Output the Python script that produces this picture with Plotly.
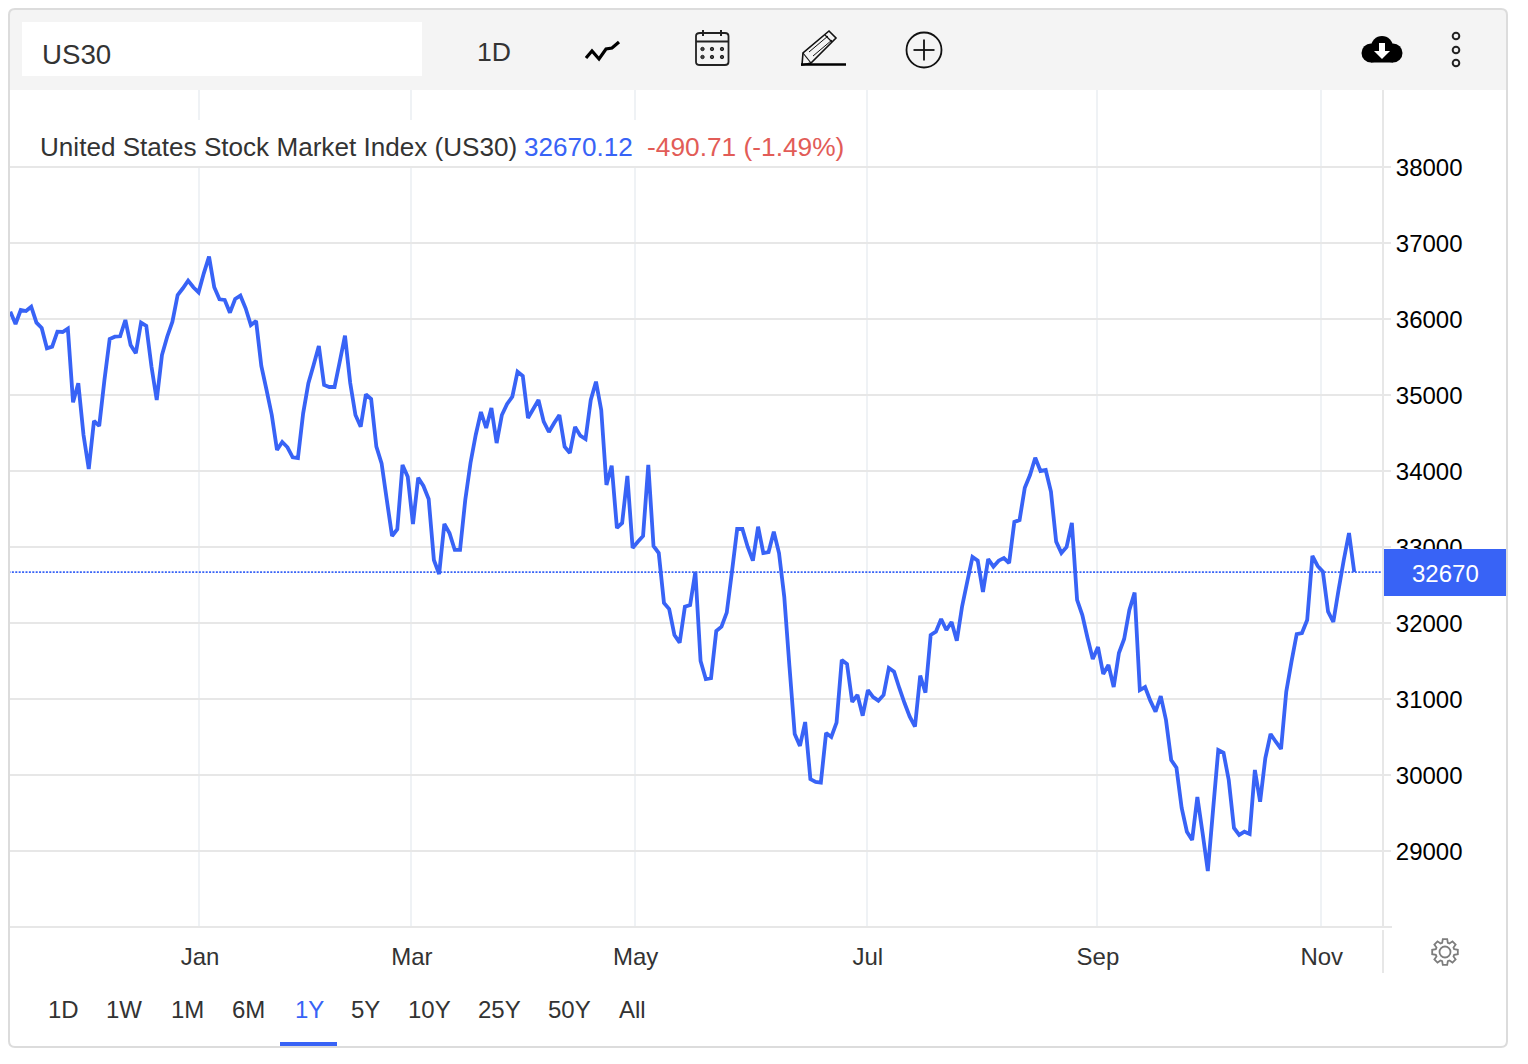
import math
import plotly.graph_objects as go

W, H = 1528, 1064

# ---- data -------------------------------------------------------------
index_close = [
 36096,35934,36118,36105,36162,35952,35882,35614,35636,35833,35829,35873,34904,35154,34474,34026,34658,34592,35197,35737,
 35767,35772,35987,35658,35549,35952,35908,35372,34934,35526,35767,35964,36316,36404,36504,36417,36351,36601,36820,36417,
 36259,36250,36083,36263,36307,36141,35921,35974,35382,35066,34737,34276,34382,34312,34180,34171,34759,35154,35395,35645,
 35132,35105,35105,35438,35780,35158,34737,34583,35009,34947,34320,34101,33618,33145,33233,34079,33925,33303,33912,33803,
 33632,32829,32645,33303,33180,32961,32961,33618,34105,34474,34776,34566,34829,34368,34737,34882,34978,35307,35250,34697,
 34816,34934,34649,34513,34632,34737,34320,34237,34579,34464,34421,34934,35175,34803,33816,34070,33250,33316,33934,32987,
 33070,33145,34079,33013,32921,32263,32184,31842,31741,32214,32237,32675,31500,31263,31276,31895,31951,32136,32675,33237,
 33237,33004,32820,33267,32921,32934,33201,32921,32346,31425,30539,30382,30697,29947,29908,29900,30553,30500,30688,31513,
 31461,30961,31053,30780,31118,31026,30978,31053,31408,31359,31145,30947,30767,30636,31307,31083,31842,31886,32053,31908,
 32013,31767,32214,32543,32868,32820,32408,32842,32741,32820,32855,32789,33329,33355,33780,33947,34175,34000,34013,33728,
 33070,32921,33000,33316,32303,32105,31803,31526,31684,31329,31447,31158,31605,31789,32171,32399,31118,31158,30978,30833,
 31039,30724,30197,30096,29566,29254,29145,29711,29237,28737,29539,30329,30293,29934,29303,29211,29254,29224,30066,29649,
 30224,30539,30438,30342,31096,31491,31855,31868,32039,32882,32750,32675,32149,32013,32434,32829,33184,32670,
]
sessions = list(range(len(index_close)))
month_labels = ["Jan", "Mar", "May", "Jul", "Sep", "Nov"]
month_sessions = [36.1, 76.6, 119.4, 163.8, 207.8, 250.6]
y_ticks = [29000, 30000, 31000, 32000, 33000, 34000, 35000, 36000, 37000, 38000]
range_buttons = ["1D", "1W", "1M", "6M", "1Y", "5Y", "10Y", "25Y", "50Y", "All"]
active_button = "1Y"
symbol = "US30"
frequency = "1D"
title_name = "United States Stock Market Index (US30)"
title_price = "32670.12"
title_change = "-490.71 (-1.49%)"

# ---- styles ------------------------------------------------------------
BLUE = "#3863f6"
RED = "#e25c57"
TXT = "#333333"
GRID = "#e7e7e7"
VGRID = "#eff2f5"
FONT = "Liberation Sans"

def px(x): return x / W
def py(y): return 1 - y / H
def pt(x, y): return f"{px(x):.5f},{py(y):.5f}"
def poly(points, close=False):
    s = "M" + " L".join(pt(a, b) for a, b in points)
    return s + (" Z" if close else "")

shapes, notes = [], []
def path(d, line=None, fill=None, width=0, layer="above"):
    shapes.append(dict(type="path", xref="paper", yref="paper", path=d, layer=layer,
                       line=dict(color=line or "rgba(0,0,0,0)", width=width),
                       fillcolor=fill or "rgba(0,0,0,0)"))
def rect(x0, y0, x1, y1, fill, layer="above"):
    shapes.append(dict(type="rect", xref="paper", yref="paper", x0=px(x0), x1=px(x1), y0=py(y1), y1=py(y0),
                       fillcolor=fill, line=dict(width=0), layer=layer))
def circle(cx, cy, r, fill=None, line=None, width=0):
    shapes.append(dict(type="circle", xref="paper", yref="paper", x0=px(cx-r), x1=px(cx+r), y0=py(cy+r), y1=py(cy-r),
                       fillcolor=fill or "rgba(0,0,0,0)", line=dict(color=line or "rgba(0,0,0,0)", width=width), layer="above"))
def seg(x0, y0, x1, y1, color, width):
    shapes.append(dict(type="line", xref="paper", yref="paper", x0=px(x0), x1=px(x1), y0=py(y0), y1=py(y1),
                       line=dict(color=color, width=width), layer="above"))
def text(x, y, s, size=24, color=TXT, anchor="left"):
    notes.append(dict(xref="paper", yref="paper", x=px(x), y=py(y), text=s, showarrow=False, xanchor=anchor, yanchor="middle",
                      font=dict(family=FONT, size=size, color=color), borderpad=0, borderwidth=0))

# toolbar & frame
L, T, R, B, r = 9, 9, 1507, 1047, 6
path(f"M{pt(L,90)} L{pt(L,T+r)} Q{pt(L,T)} {pt(L+r,T)} L{pt(R-r,T)} Q{pt(R,T)} {pt(R,T+r)} L{pt(R,90)} Z", fill="#f4f4f4")
rect(22, 22, 422, 76, "#ffffff")
rect(30, 120, 866, 166, "#ffffff")
path(f"M{pt(L+r,T)} L{pt(R-r,T)} Q{pt(R,T)} {pt(R,T+r)} L{pt(R,B-r)} Q{pt(R,B)} {pt(R-r,B)} "
     f"L{pt(L+r,B)} Q{pt(L,B)} {pt(L,B-r)} L{pt(L,T+r)} Q{pt(L,T)} {pt(L+r,T)} Z", line="#dcdcdc", width=2)

# axis frame lines
seg(1383, 90, 1383, 926, GRID, 2)
seg(1383, 930, 1383, 973, GRID, 2)
seg(10, 927, 1392, 927, GRID, 2)

# toolbar texts
text(42, 54.5, symbol, 27.7)
text(494, 52, frequency, 26.6, anchor="center")

# trend icon
path(poly([(586,58),(592,51),(599,59),(606,49),(612,48),(619,42)]), line="#000000", width=3.2)
# calendar icon
path(f"M{pt(700,33)} L{pt(725,33)} Q{pt(728.5,33)} {pt(728.5,36)} L{pt(728.5,62)} Q{pt(728.5,65)} {pt(725,65)} "
     f"L{pt(700,65)} Q{pt(696,65)} {pt(696,62)} L{pt(696,36)} Q{pt(696,33)} {pt(700,33)} Z", line="#222222", width=1.8)
seg(696, 41.5, 728.5, 41.5, "#222222", 2.2)
for cx in (703, 721):
    seg(cx, 30, cx, 36, "#222222", 2)
for cy in (49, 57):
    for cx in (702.5, 712, 722):
        circle(cx, cy, 1.7, fill="#444444", line="#222222", width=1)
# pencil icon
path(poly([(802,65),(803,53),(829,31),(836,38),(811,63)], close=True), line="#111111", width=1.6)
seg(803, 53, 811, 63, "#111111", 1.2)
seg(809, 52, 828, 36, "#111111", 1.0)
seg(813, 56, 832, 40, "#111111", 1.0)
seg(825, 35, 832, 42, "#111111", 1.2)
seg(801, 64.5, 846, 64.5, "#000000", 2.5)
# add icon
circle(924, 50, 17.5, line="#111111", width=1.8)
seg(913.5, 50, 934.5, 50, "#111111", 1.8)
seg(924, 39.5, 924, 60.5, "#111111", 1.8)
# cloud download icon
circle(1382, 47, 11, fill="#000000")
circle(1371, 53, 9.5, fill="#000000")
circle(1393, 53, 9.5, fill="#000000")
rect(1371, 52, 1393, 62.5, "#000000")
path(poly([(1379,43),(1385,43),(1385,51),(1390,51),(1382,59),(1374,51),(1379,51)], close=True), fill="#ffffff")
# kebab icon
for cy in (36, 50, 63):
    circle(1456, cy, 3.3, line="#222222", width=2)
# gear icon
gx, gy = 1445, 952
gear = []
teeth = 8
for i in range(teeth):
    a0 = 2 * math.pi * i / teeth
    for da, rad in ((-0.30, 9.6), (-0.17, 13), (0.17, 13), (0.30, 9.6)):
        gear.append((gx + rad * math.cos(a0 + da), gy + rad * math.sin(a0 + da)))
path(poly(gear, close=True), line="#7d7d7d", width=1.8)
circle(gx, gy, 5.5, line="#7d7d7d", width=1.8)

# legend line of the chart
text(40, 147, title_name, 26.1)
text(524, 147, title_price, 26.1, BLUE)
text(647, 147, title_change, 26.3, RED)

# last value tag
last_value = index_close[-1]
rect(1384, 549, 1506, 596, BLUE)
text(1445, 573, f"{round(last_value)}", 24, "#ffffff", "center")

# range buttons
button_centres = [63, 124, 187, 248.5, 309, 365.5, 429, 499, 569, 632]
for name, cx in zip(range_buttons, button_centres):
    text(cx, 1009, name, 24, BLUE if name == active_button else TXT, "center")
rect(280, 1042, 337, 1046, BLUE)

fig = go.Figure()
fig.add_trace(go.Scatter(x=[sessions[0]-1, sessions[-1]+6], y=[last_value, last_value], mode="lines",
                         line=dict(color=BLUE, width=1.8, dash="2px,1.4px"), hoverinfo="skip", showlegend=False))
fig.add_trace(go.Scatter(x=sessions, y=index_close, mode="lines",
                         line=dict(color=BLUE, width=3.8, simplify=False), showlegend=False))

fig.update_layout(
    width=W, height=H, margin=dict(l=0, r=0, t=0, b=0), autosize=False,
    paper_bgcolor="#ffffff", plot_bgcolor="#ffffff",
    font=dict(family=FONT, color=TXT, size=24),
    shapes=shapes, annotations=notes,
    xaxis=dict(domain=[px(10), px(1383)], range=[-0.06, 262.5], tickmode="array", tickvals=month_sessions,
               ticktext=month_labels, showgrid=True, gridcolor=VGRID, gridwidth=2, ticks="", showline=False,
               zeroline=False, tickfont=dict(family=FONT, size=24, color=TXT), ticklabelstandoff=13, ticklabelshift=1,
               automargin=False, anchor="y"),
    yaxis=dict(domain=[py(927), py(90)], range=[28000, 39013], side="right", tickmode="array", tickvals=y_ticks,
               ticktext=[str(v) for v in y_ticks], showgrid=True, gridcolor=GRID, gridwidth=2, ticks="outside",
               ticklen=7, tickwidth=2, tickcolor=GRID, showline=False, zeroline=False,
               tickfont=dict(family=FONT, size=24, color="#000000"), ticklabelstandoff=0, ticklabelshift=1,
               automargin=False, anchor="x"),
)
fig.write_html("out.html", config=dict(displayModeBar=False),
               post_script="document.body.style.margin='0';document.documentElement.style.overflow='hidden';")
